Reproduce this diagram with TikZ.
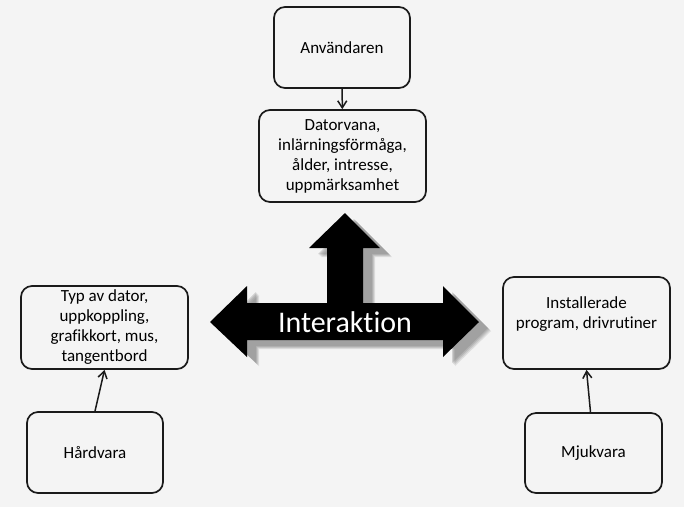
\documentclass[tikz,border=0pt]{standalone}
\usepackage{fontspec}
\setmainfont{Carlito}[Ligatures=NoCommon]
\usepackage{xcolor}
\usetikzlibrary{arrows.meta,calc,positioning}
\definecolor{Paper}{HTML}{F4F4F4}
\definecolor{Ink}{HTML}{1A1A1A}
\definecolor{Shade}{HTML}{7A7A7A}

\begin{document}
\begin{tikzpicture}[x=1pt,y=-1pt,
  box/.style={draw=Ink,line width=1.7pt,rounded corners=11pt,align=center,font=\fontsize{17}{20}\selectfont,inner sep=2pt},
  txt/.style={align=center,font=\fontsize{17}{20}\selectfont,inner sep=0pt},
  arr/.style={-{Straight Barb[length=7pt,width=9pt]},line width=1.5pt,color=Ink}
]
\useasboundingbox[fill=Paper] (0,0) rectangle (684,507);
% boxes
\node[box,minimum width=136pt,minimum height=81pt] (anv) at (342,47.5) {Användaren};
\node[box,minimum width=167pt,minimum height=92pt] (dator) at (342.5,156) {Datorvana,\\inlärningsförmåga,\\ålder, intresse,\\uppmärksamhet};
\node[box,minimum width=167pt,minimum height=83pt] (typ) at (104.5,327.5) {Typ av dator,\\uppkoppling,\\grafikkort, mus,\\tangentbord};
\node[box,minimum width=136pt,minimum height=81pt] (hard) at (95,452.5) {Hårdvara};
\node[box,minimum width=167pt,minimum height=92pt] (inst) at (586.5,323) {};
\node[txt] (insttxt) at ([yshift=9pt]inst.center) {Installerade\\program, drivrutiner};
\node[box,minimum width=137pt,minimum height=80pt] (mjuk) at (593.5,453) {Mjukvara};
% big arrow with soft shadow
\foreach \d/\o in {0/0.18,1/0.22,2/0.26,3/0.30} {
  \fill[Shade,opacity=\o,shift={(12-\d,9-\d)}]
    (210,322) -- (247,286) -- (247,303) -- (327,303) -- (327,248) -- (309,248) -- (345,213)
    -- (380,248) -- (363,248) -- (363,303) -- (443,303) -- (443,286) -- (479,322)
    -- (443,357) -- (443,340) -- (247,340) -- (247,357) -- cycle;
}
\fill[black]
  (210,322) -- (247,286) -- (247,303) -- (327,303) -- (327,248) -- (309,248) -- (345,213)
  -- (380,248) -- (363,248) -- (363,303) -- (443,303) -- (443,286) -- (479,322)
  -- (443,357) -- (443,340) -- (247,340) -- (247,357) -- cycle;
\node[text=white,font=\fontsize{30}{32}\selectfont,inner sep=0pt] (inter) at (345,322) {Interaktion};
% connectors
\draw[arr] (anv) -- (dator);
\draw[arr] (hard.north) -- (typ.south);
\draw[arr] ([xshift=-3pt]mjuk.north) -- (inst.south);
\end{tikzpicture}
\end{document}
